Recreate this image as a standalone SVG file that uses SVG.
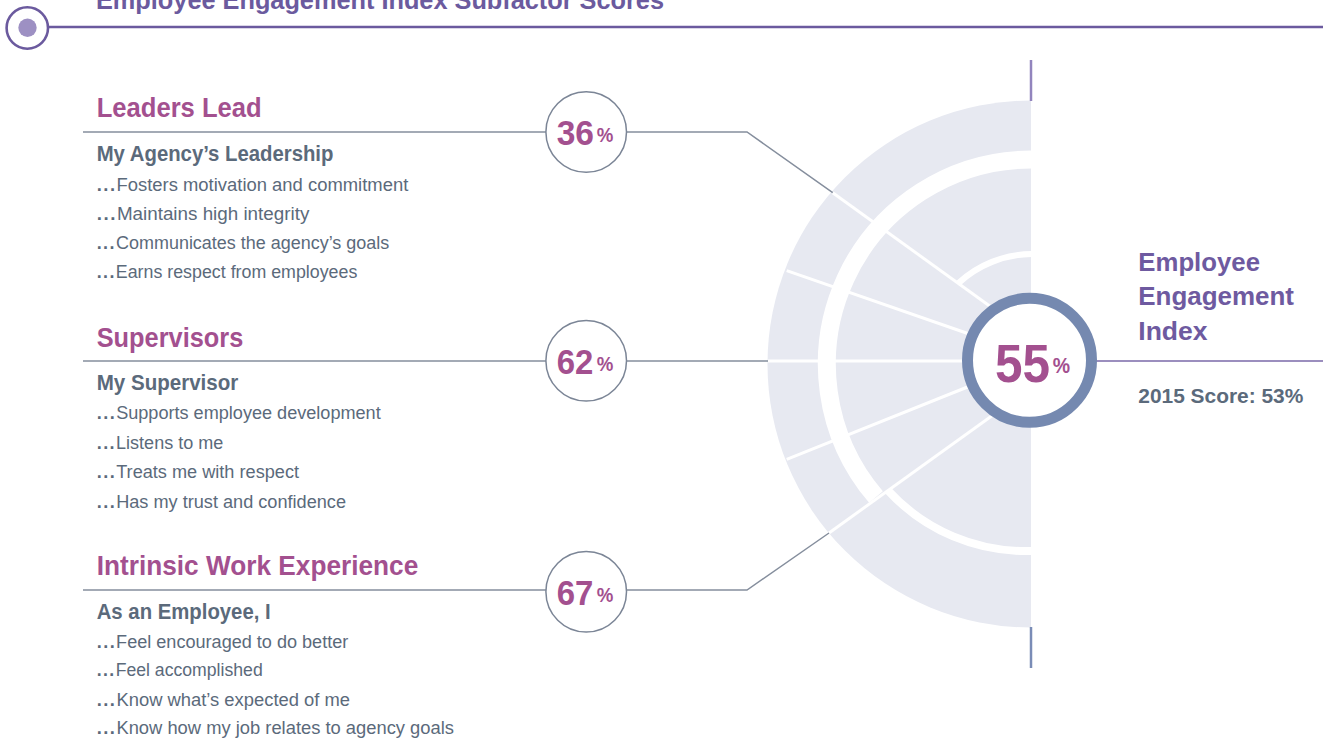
<svg xmlns="http://www.w3.org/2000/svg" width="1323" height="739" viewBox="0 0 1323 739">
<style>
text{font-family:"Liberation Sans",Arial,sans-serif}
.title{font-size:26.5px;font-weight:bold;fill:#6b5a9e}
.head{font-size:27.5px;font-weight:bold;fill:#a3508f}
.sub{font-size:21.5px;font-weight:bold;fill:#5b6a7b}
.body{font-size:18.7px;fill:#5b6a7b}
.body tspan.d{font-weight:bold;letter-spacing:1.5px}
.pct{font-size:35px;font-weight:bold;fill:#a3508f}
.pcts{font-size:20px;font-weight:bold;fill:#a3508f}
.big{font-size:54px;font-weight:bold;fill:#a3508f}
.bigs{font-size:22px;font-weight:bold;fill:#a3508f}
.eei{font-size:26.5px;font-weight:bold;fill:#6e5aa0}
.score{font-size:21px;font-weight:bold;fill:#5b6a7b}
.conn{fill:none;stroke:#858e9d;stroke-width:1.5}
.pc{fill:#fff;stroke:#7b8596;stroke-width:1.5}
.wl{stroke:#fff;stroke-width:3;fill:none}
.wa{stroke:#fff;fill:none}
</style>

<g id="header">
  <line x1="48" y1="27" x2="1323" y2="27" stroke="#6b5a9e" stroke-width="2.5"/>
  <circle cx="27.3" cy="28" r="20.7" fill="#fff" stroke="#6b5a9e" stroke-width="2.6"/>
  <circle cx="27.5" cy="27.7" r="9.2" fill="#9d90c3"/>
  <text class="title" x="96" y="8.5" textLength="568" lengthAdjust="spacingAndGlyphs">Employee Engagement Index Subfactor Scores</text>
</g>

<g id="chart">
  <path d="M1031,100.5 A263.5,263.5 0 0 0 1031,627.5 Z" fill="#e7e9f1"/>
  <path class="wa" stroke-width="18" d="M1031.5,159.5 A204.5,204.5 0 0 0 876,497"/>
  <path class="wa" stroke-width="8" d="M888,490.5 A187,187 0 0 0 1031.5,551"/>
  <path class="wa" stroke-width="6" d="M1031.5,254 A110,110 0 0 0 958,283.5"/>
  <line class="wl" x1="832.7" y1="192.7" x2="1000" y2="313.5"/>
  <line class="wl" x1="786.7" y1="270.7" x2="975" y2="336"/>
  <line class="wl" x1="768" y1="361" x2="970" y2="361"/>
  <line class="wl" x1="786.7" y1="459.3" x2="975" y2="384"/>
  <line class="wl" x1="829" y1="533" x2="1000" y2="410"/>
  <line x1="1031" y1="60" x2="1031" y2="101" stroke="#9284bd" stroke-width="2.5"/>
  <line x1="1031" y1="627" x2="1031" y2="668" stroke="#7a8cb6" stroke-width="2.5"/>
</g>

<g id="connectors">
  <polyline class="conn" points="83,132 546,132"/>
  <polyline class="conn" points="627,132 747,132 832.7,192.7"/>
  <polyline class="conn" points="83,361 546,361"/>
  <polyline class="conn" points="627,361 768,361"/>
  <polyline class="conn" points="83,590 546,590"/>
  <polyline class="conn" points="627,590 747,590 829,533"/>
  <line x1="1096" y1="361" x2="1323" y2="361" stroke="#7a68a8" stroke-width="1.6"/>
</g>

<g id="leaders-lead">
  <text class="head" x="96.7" y="117.3" textLength="165" lengthAdjust="spacingAndGlyphs">Leaders Lead</text>
  <text class="sub" x="96.7" y="160.7" textLength="236.7" lengthAdjust="spacingAndGlyphs">My Agency’s Leadership</text>
  <text class="body" x="96.7" y="190.7" textLength="311.6" lengthAdjust="spacingAndGlyphs"><tspan class="d">...</tspan>Fosters motivation and commitment</text>
  <text class="body" x="96.7" y="220" textLength="212.6" lengthAdjust="spacingAndGlyphs"><tspan class="d">...</tspan>Maintains high integrity</text>
  <text class="body" x="96.7" y="249.3" textLength="292.6" lengthAdjust="spacingAndGlyphs"><tspan class="d">...</tspan>Communicates the agency’s goals</text>
  <text class="body" x="96.7" y="278.3" textLength="260.6" lengthAdjust="spacingAndGlyphs"><tspan class="d">...</tspan>Earns respect from employees</text>
</g>

<g id="supervisors">
  <text class="head" x="96.7" y="346.7" textLength="146.6" lengthAdjust="spacingAndGlyphs">Supervisors</text>
  <text class="sub" x="96.7" y="390" textLength="141.6" lengthAdjust="spacingAndGlyphs">My Supervisor</text>
  <text class="body" x="96.7" y="419.3" textLength="284" lengthAdjust="spacingAndGlyphs"><tspan class="d">...</tspan>Supports employee development</text>
  <text class="body" x="96.7" y="449" textLength="126.6" lengthAdjust="spacingAndGlyphs"><tspan class="d">...</tspan>Listens to me</text>
  <text class="body" x="96.7" y="478.3" textLength="202.3" lengthAdjust="spacingAndGlyphs"><tspan class="d">...</tspan>Treats me with respect</text>
  <text class="body" x="96.7" y="507.7" textLength="249.3" lengthAdjust="spacingAndGlyphs"><tspan class="d">...</tspan>Has my trust and confidence</text>
</g>

<g id="intrinsic-work-experience">
  <text class="head" x="96.7" y="575" textLength="321.6" lengthAdjust="spacingAndGlyphs">Intrinsic Work Experience</text>
  <text class="sub" x="96.7" y="619" textLength="174" lengthAdjust="spacingAndGlyphs">As an Employee, I</text>
  <text class="body" x="96.7" y="647.7" textLength="251.6" lengthAdjust="spacingAndGlyphs"><tspan class="d">...</tspan>Feel encouraged to do better</text>
  <text class="body" x="96.7" y="676" textLength="166" lengthAdjust="spacingAndGlyphs"><tspan class="d">...</tspan>Feel accomplished</text>
  <text class="body" x="96.7" y="705.7" textLength="253.3" lengthAdjust="spacingAndGlyphs"><tspan class="d">...</tspan>Know what’s expected of me</text>
  <text class="body" x="96.7" y="734.3" textLength="357.3" lengthAdjust="spacingAndGlyphs"><tspan class="d">...</tspan>Know how my job relates to agency goals</text>
</g>

<g id="score-36">
  <circle class="pc" cx="586.2" cy="132" r="40.3"/>
  <text class="pct" x="556.7" y="145" textLength="37.3" lengthAdjust="spacingAndGlyphs">36</text>
  <text class="pcts" x="596.7" y="141.7" textLength="16.6" lengthAdjust="spacingAndGlyphs">%</text>
</g>
<g id="score-62">
  <circle class="pc" cx="586.2" cy="360.7" r="40.3"/>
  <text class="pct" x="556.7" y="374.3" textLength="36.6" lengthAdjust="spacingAndGlyphs">62</text>
  <text class="pcts" x="596.7" y="370.5" textLength="16.6" lengthAdjust="spacingAndGlyphs">%</text>
</g>
<g id="score-67">
  <circle class="pc" cx="586.2" cy="591.7" r="40.3"/>
  <text class="pct" x="556.7" y="605" textLength="36.6" lengthAdjust="spacingAndGlyphs">67</text>
  <text class="pcts" x="596.7" y="601.5" textLength="16.6" lengthAdjust="spacingAndGlyphs">%</text>
</g>

<g id="index-55">
  <circle cx="1029.5" cy="360.3" r="62" fill="#fff" stroke="#7589b0" stroke-width="11"/>
  <text class="big" x="995" y="381.7" textLength="55" lengthAdjust="spacingAndGlyphs">55</text>
  <text class="bigs" x="1052.7" y="372.7" textLength="17.3" lengthAdjust="spacingAndGlyphs">%</text>
</g>

<g id="index-label">
  <text class="eei" x="1138.3" y="270.7" textLength="121.7" lengthAdjust="spacingAndGlyphs">Employee</text>
  <text class="eei" x="1138.3" y="305.4" textLength="155.7" lengthAdjust="spacingAndGlyphs">Engagement</text>
  <text class="eei" x="1138.3" y="340">Index</text>
  <text class="score" x="1138.3" y="402.7" textLength="165" lengthAdjust="spacingAndGlyphs">2015 Score: 53%</text>
</g>
</svg>
